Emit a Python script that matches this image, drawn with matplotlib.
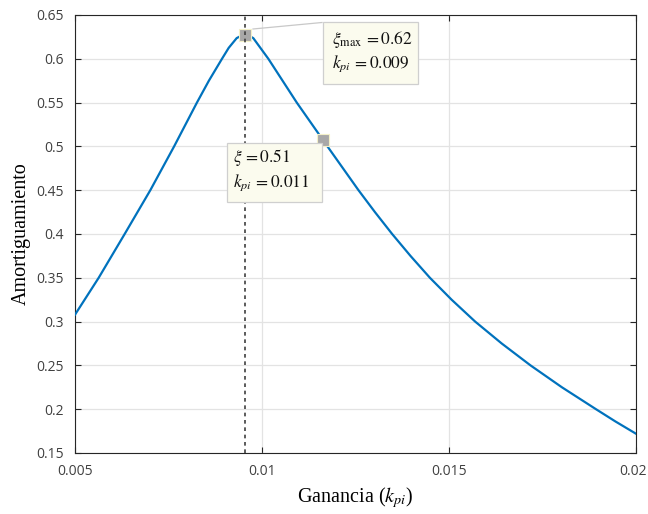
import numpy as np
import matplotlib.pyplot as plt
import matplotlib.transforms as mtransforms

plt.rcParams.update({
    'mathtext.fontset': 'stix',
    'font.family': 'Open Sans',
})

# curve: gain k_pi vs damping
kpi = [0.005, 0.005633, 0.006328, 0.007014, 0.00765, 0.00826, 0.00858, 0.00893,
       0.00911, 0.009323, 0.00944, 0.00955, 0.00966, 0.009767, 0.01017, 0.01055,
       0.01093, 0.01134, 0.01175, 0.012165, 0.01258, 0.01302, 0.01348, 0.01397,
       0.01449, 0.01507, 0.01570, 0.01641, 0.01718, 0.01802, 0.01893, 0.01945, 0.0200]
damping = [0.3079, 0.35, 0.40, 0.45, 0.50, 0.55, 0.575, 0.60,
           0.6125, 0.6236, 0.6262, 0.6272, 0.6262, 0.6236, 0.60, 0.575,
           0.55, 0.525, 0.50, 0.475, 0.45, 0.425, 0.40, 0.375,
           0.35, 0.325, 0.30, 0.275, 0.25, 0.225, 0.20, 0.186, 0.172]

peak_point = (0.00955, 0.6272)
second_point = (0.01164, 0.5076)
peak_text = [r'$\xi_{\mathrm{max}}\,=0.62$', r'$k_{pi}\,=0.009$']
second_text = [r'$\xi\,=0.51$', r'$k_{pi}\,=0.011$']

xticks = [0.005, 0.01, 0.015, 0.02]
xtick_labels = ['0.005', '0.01', '0.015', '0.02']
yticks = [0.15, 0.2, 0.25, 0.3, 0.35, 0.4, 0.45, 0.5, 0.55, 0.6, 0.65]
ytick_labels = ['0.15', '0.2', '0.25', '0.3', '0.35', '0.4', '0.45', '0.5', '0.55', '0.6', '0.65']

fig = plt.figure(figsize=(6.48, 5.14), dpi=100)
ax = fig.add_axes([75 / 648, 1 - 453 / 514, 561 / 648, 438 / 514])

ax.plot(kpi, damping, color='#0072BD', lw=1.6, zorder=3)
ax.axvline(peak_point[0], color='#404040', lw=1.2, ls=(0, (2.2, 2.2)), zorder=5)

for px, py in (peak_point, second_point):
    ax.plot(px, py, marker='s', ms=8.5, mfc='#a8a8a8', mec='#f3f0c8', mew=0.8, zorder=4)

ax.set_xlim(0.005, 0.02)
ax.set_ylim(0.15, 0.65)
ax.set_xticks(xticks)
ax.set_xticklabels(xtick_labels)
ax.set_yticks(yticks)
ax.set_yticklabels(ytick_labels)
ax.grid(True, color='#e3e3e3', lw=0.9, zorder=0)
ax.set_axisbelow(True)
ax.tick_params(direction='in', length=4, width=0.8, colors='#262626', labelcolor='#404040',
               labelsize=10, top=True, right=True, pad=8)
for s in ax.spines.values():
    s.set_color('#262626')
    s.set_linewidth(0.8)

# keep the last x label inside the canvas
last = ax.get_xticklabels()[-1]
last.set_transform(last.get_transform() + mtransforms.ScaledTranslation(-3 / 100, 0, fig.dpi_scale_trans))

ax.set_xlabel(r'Ganancia ($k_{pi}$)', fontsize=14.5, family='Liberation Serif', labelpad=4)
ax.set_ylabel('Amortiguamiento', fontsize=14.5, family='Liberation Serif', labelpad=4)


def to_ax(px, py):
    return (px - 75) / 561, (453 - py) / 438


def datatip(x0, x1, y0, y1, lines, tx, ty1, ty2):
    ax0, ay0 = to_ax(x0, y1)
    ax1, ay1 = to_ax(x1, y0)
    rect = plt.Rectangle((ax0, ay0), ax1 - ax0, ay1 - ay0, transform=ax.transAxes,
                         facecolor='#fbfbee', edgecolor='#cfcfcf', lw=0.9, zorder=6)
    ax.add_patch(rect)
    for yy, txt in ((ty1, lines[0]), (ty2, lines[1])):
        a, b = to_ax(tx, yy)
        ax.text(a, b, txt, transform=ax.transAxes, fontsize=12.5, va='center', ha='left',
                color='#111111', zorder=7)


# connector from the peak marker to its tip
c0 = to_ax(253, 29)
c1 = to_ax(322, 22.5)
ax.plot([c0[0], c1[0]], [c0[1], c1[1]], transform=ax.transAxes, color='#c8c8c8', lw=0.9, zorder=5)

datatip(322.5, 418.3, 22.3, 84, peak_text, 332, 40, 64)
datatip(226.7, 321.7, 142.7, 201.7, second_text, 233, 158, 183)

fig.savefig('out.png', dpi=100)
